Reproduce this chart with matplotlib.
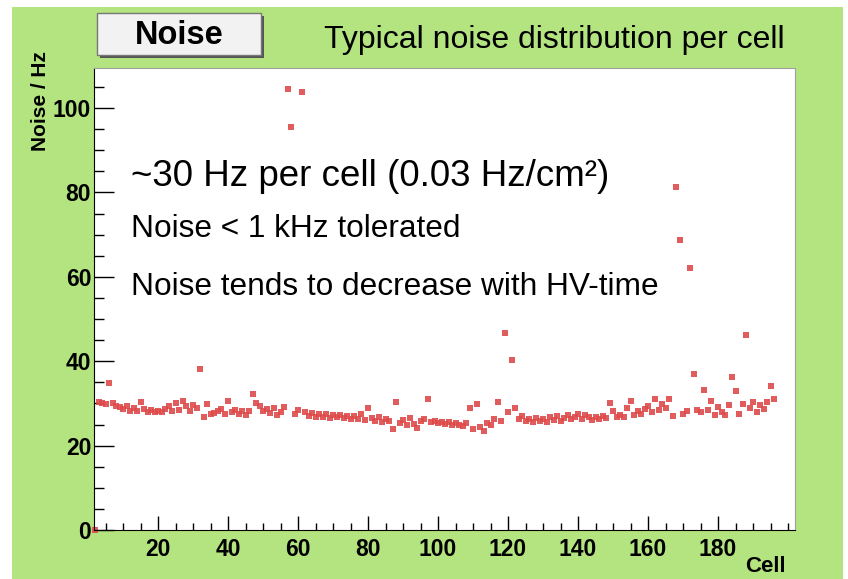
import matplotlib

matplotlib.use("Agg")
import matplotlib.pyplot as plt
import numpy as np
from matplotlib.patches import Rectangle
from matplotlib.ticker import MultipleLocator

# noise per cell (Hz), cells 2..196
cells = np.arange(2, 197)
noise = [
    0.0, 30.4, 30.1, 29.8, 34.8, 30.0, 29.4, 29.1, 28.6, 29.3,
    28.3, 28.8, 28.2, 30.4, 28.6, 28.0, 28.4, 27.9, 28.1, 28.0,
    28.6, 29.5, 28.3, 30.1, 28.4, 30.6, 29.3, 28.3, 29.6, 28.9,
    38.2, 26.9, 29.9, 27.6, 27.8, 28.2, 28.6, 27.4, 30.5, 27.9,
    28.4, 27.6, 28.1, 27.2, 28.3, 32.2, 30.0, 29.4, 28.2, 28.6,
    27.7, 29.0, 27.3, 28.0, 29.1, 104.5, 95.6, 27.6, 28.4, 103.8,
    28.0, 27.1, 27.8, 26.8, 27.4, 26.9, 27.5, 26.5, 27.2, 26.8,
    27.3, 26.6, 27.0, 26.4, 27.1, 26.2, 27.4, 26.0, 29.0, 26.5,
    25.8, 26.7, 25.5, 26.3, 25.9, 23.9, 30.3, 25.4, 26.0, 24.9,
    26.6, 25.2, 24.2, 25.8, 26.2, 31.0, 25.6, 25.9, 25.3, 25.7,
    25.1, 25.6, 24.9, 25.4, 25.0, 24.6, 25.3, 29.0, 23.9, 29.8,
    24.5, 23.5, 25.3, 24.9, 26.3, 30.4, 25.8, 46.6, 28.0, 40.3,
    29.0, 26.2, 27.0, 25.8, 26.4, 25.5, 26.6, 25.9, 26.3, 25.6,
    26.8, 26.1, 27.1, 25.9, 26.5, 27.3, 26.2, 26.8, 27.5, 26.4,
    27.2, 26.7, 26.0, 26.9, 26.3, 27.0, 26.5, 30.0, 28.2, 26.8,
    27.3, 26.9, 29.0, 30.6, 27.2, 28.1, 27.5, 28.6, 29.4, 28.0,
    31.0, 28.4, 29.8, 28.9, 31.0, 27.1, 81.2, 68.7, 27.5, 28.3,
    62.2, 37.0, 28.4, 28.0, 33.2, 28.5, 30.5, 27.3, 29.2, 28.0,
    27.3, 29.6, 36.3, 33.0, 27.6, 29.9, 46.2, 28.9, 30.3, 27.9,
    29.6, 28.6, 30.4, 34.2, 31.0,
]

notes = [
    "~30 Hz per cell (0.03 Hz/cm\u00b2)",
    "Noise < 1 kHz tolerated",
    "Noise tends to decrease with HV-time",
]

GREEN = "#b3e480"
RED = "#de4a4a"
W, H = 848, 579

plt.rcParams["font.family"] = ["Liberation Sans", "DejaVu Sans"]

fig = plt.figure(figsize=(W / 100, H / 100), dpi=100)
fig.patch.set_facecolor("white")
fig.patches.append(Rectangle((12 / W, 0), 1 - 17 / W, 1 - 7 / H, transform=fig.transFigure,
                             facecolor=GREEN, edgecolor="none", zorder=-10))

ax = fig.add_axes([94 / W, 1 - 530 / H, (795 - 94) / W, (530 - 68) / H])
ax.set_facecolor("white")
ax.plot(cells, noise, "s", color=RED, ms=4, mew=0, alpha=0.9, clip_on=False)

ax.set_xlim(1.7, 202)
ax.set_ylim(0, 109.5)
ax.xaxis.set_major_locator(MultipleLocator(20))
ax.xaxis.set_minor_locator(MultipleLocator(5))
ax.yaxis.set_major_locator(MultipleLocator(20))
ax.yaxis.set_minor_locator(MultipleLocator(5))
ax.tick_params(which="both", direction="in", top=False, right=False, color="black", width=1)
ax.tick_params(axis="y", which="major", length=14.5, labelsize=16.5, pad=2)
ax.tick_params(axis="y", which="minor", length=7)
ax.tick_params(axis="x", which="major", length=10, labelsize=16.5, pad=6)
ax.tick_params(axis="x", which="minor", length=5)
ax.set_xticks([20, 40, 60, 80, 100, 120, 140, 160, 180])
for lab in ax.get_xticklabels() + ax.get_yticklabels():
    lab.set_fontweight("bold")
for s in ("left", "bottom"):
    ax.spines[s].set_color("black")
for s in ("top", "right"):
    ax.spines[s].set_color("#a0a0a0")

fig.text(40 / W, 1 - 51 / H, "Noise / Hz", rotation=90, ha="center", va="top",
         fontsize=15, fontweight="bold")
fig.text(786 / W, 1 - 566 / H, "Cell", ha="right", va="center", fontsize=16, fontweight="bold")

# overlaid notes
ax.text(131 / W, 1 - 176 / H, notes[0], transform=fig.transFigure, fontsize=26.5, va="center")
for txt, yp in zip(notes[1:], (229, 287)):
    ax.text(131 / W, 1 - yp / H, txt, transform=fig.transFigure, fontsize=22.8, va="center")

# title box
fig.patches.append(Rectangle((100 / W, 1 - 58 / H), 164 / W, 42 / H, transform=fig.transFigure,
                             facecolor="#555555", edgecolor="none", zorder=5))
fig.patches.append(Rectangle((97 / W, 1 - 55 / H), 164 / W, 42 / H, transform=fig.transFigure,
                             facecolor="#f2f2f2", edgecolor="#777777", lw=1, zorder=6))
fig.text(179 / W, 1 - 35 / H, "Noise", ha="center", va="center", fontsize=23.5,
         fontweight="bold", zorder=7)
fig.text(785 / W, 1 - 40 / H, "Typical noise distribution per cell", ha="right", va="center",
         fontsize=23)

fig.savefig("out.png", dpi=100)
